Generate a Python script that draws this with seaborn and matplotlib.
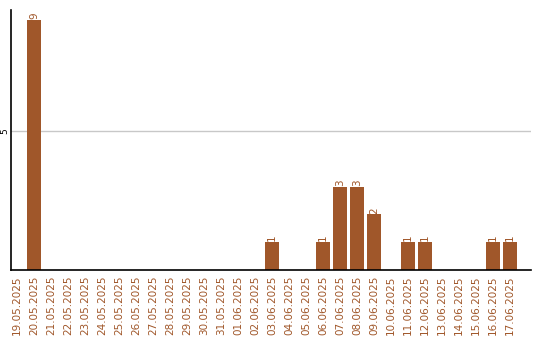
import matplotlib
matplotlib.use("Agg")
import matplotlib.pyplot as plt
import seaborn as sns
import pandas as pd

dates = ["19.05.2025", "20.05.2025", "21.05.2025", "22.05.2025", "23.05.2025",
         "24.05.2025", "25.05.2025", "26.05.2025", "27.05.2025", "28.05.2025",
         "29.05.2025", "30.05.2025", "31.05.2025", "01.06.2025", "02.06.2025",
         "03.06.2025", "04.06.2025", "05.06.2025", "06.06.2025", "07.06.2025",
         "08.06.2025", "09.06.2025", "10.06.2025", "11.06.2025", "12.06.2025",
         "13.06.2025", "14.06.2025", "15.06.2025", "16.06.2025", "17.06.2025"]
counts = [0, 9, 0, 0, 0, 0, 0, 0, 0, 0, 0, 0, 0, 0, 0,
          1, 0, 0, 1, 3, 3, 2, 0, 1, 1, 0, 0, 0, 1, 1]
y_ticks = [5]

BROWN = "#A0572A"

sns.set_theme(style="white")
plt.rcParams["font.family"] = ["DejaVu Sans"]

df = pd.DataFrame({"date": dates, "count": counts})

fig = plt.figure(figsize=(5.4, 3.4), dpi=100)
ax = fig.add_axes([10.5 / 540, 1 - 270 / 340, (531 - 10.5) / 540, 260 / 340])

sns.barplot(data=df, x="date", y="count", color=BROWN, saturation=1,
            width=0.82, linewidth=0, ax=ax, zorder=2)

ax.set_ylim(0, 9.35)
ax.set_xlim(-0.38, len(dates) + 0.24)
ax.set_yticks(y_ticks)
ax.set_yticklabels([str(t) for t in y_ticks], rotation=90, va="center",
                   fontsize=6.5, color="black")
ax.yaxis.grid(True, color="#c8c8c8", linewidth=1, zorder=0)
ax.tick_params(axis="y", length=0, pad=1)
ax.tick_params(axis="x", length=0, pad=4)
ax.set_xticks(range(len(dates)))
ax.set_xticklabels(dates, rotation=90, fontsize=7.5, color=BROWN)
ax.set_xlabel("")
ax.set_ylabel("")

for side in ["top", "right"]:
    ax.spines[side].set_visible(False)
for side in ["left", "bottom"]:
    ax.spines[side].set_color("black")
    ax.spines[side].set_linewidth(1.2)

for i, c in enumerate(counts):
    if c > 0:
        ax.text(i, c + 0.03, str(c), rotation=90, ha="center", va="bottom",
                fontsize=7.5, color=BROWN)

fig.savefig("out.png", dpi=100)
